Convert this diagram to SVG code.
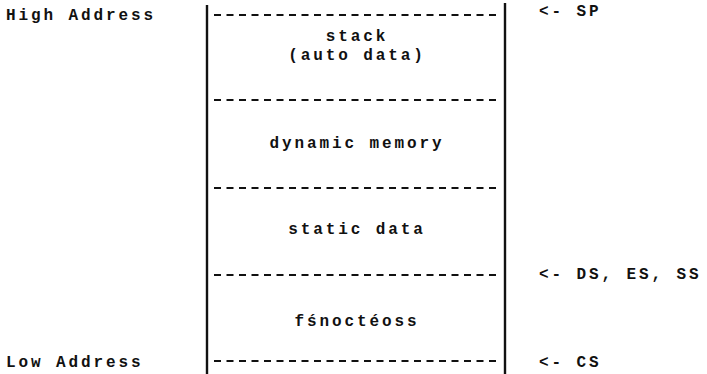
<svg xmlns="http://www.w3.org/2000/svg" width="707" height="374" viewBox="0 0 707 374">
<style>
text{font-family:"Liberation Mono","DejaVu Sans Mono",monospace;font-weight:bold;font-size:16px;letter-spacing:2.9px;fill:#111}
.c{text-anchor:middle}
.dash{stroke:#111;stroke-width:2;stroke-dasharray:7 5.5;fill:none}
.wall{stroke:#111;stroke-width:2.4;fill:none}
</style>
<rect width="707" height="374" fill="#fff"/>
<g id="labels">
<text x="6" y="20">High Address</text>
<text x="6" y="367">Low Address</text>
</g>
<g id="pointers">
<text x="539" y="16">&lt;- SP</text>
<text x="539" y="279">&lt;- DS, ES, SS</text>
<text x="539" y="367">&lt;- CS</text>
</g>
<g id="memory-map">
<line class="wall" x1="207" y1="5" x2="207" y2="374"/>
<line class="wall" x1="505" y1="3" x2="505" y2="374"/>
</g>
<g id="stack">
<line class="dash" x1="214" y1="15" x2="500" y2="15"/>
<text class="c" x="357" y="41">stack</text>
<text class="c" x="357" y="60">(auto data)</text>
</g>
<g id="dynamic-memory">
<line class="dash" x1="214" y1="100" x2="500" y2="100"/>
<text class="c" x="357" y="148">dynamic memory</text>
</g>
<g id="static-data">
<line class="dash" x1="214" y1="188" x2="500" y2="188"/>
<text class="c" x="357" y="234">static data</text>
</g>
<g id="functions">
<line class="dash" x1="214" y1="275" x2="500" y2="275"/>
<text class="c" x="357" y="326">fśnoctéoss</text>
<line class="dash" x1="214" y1="361" x2="500" y2="361"/>
</g>
<g id="connectors"/>
</svg>
